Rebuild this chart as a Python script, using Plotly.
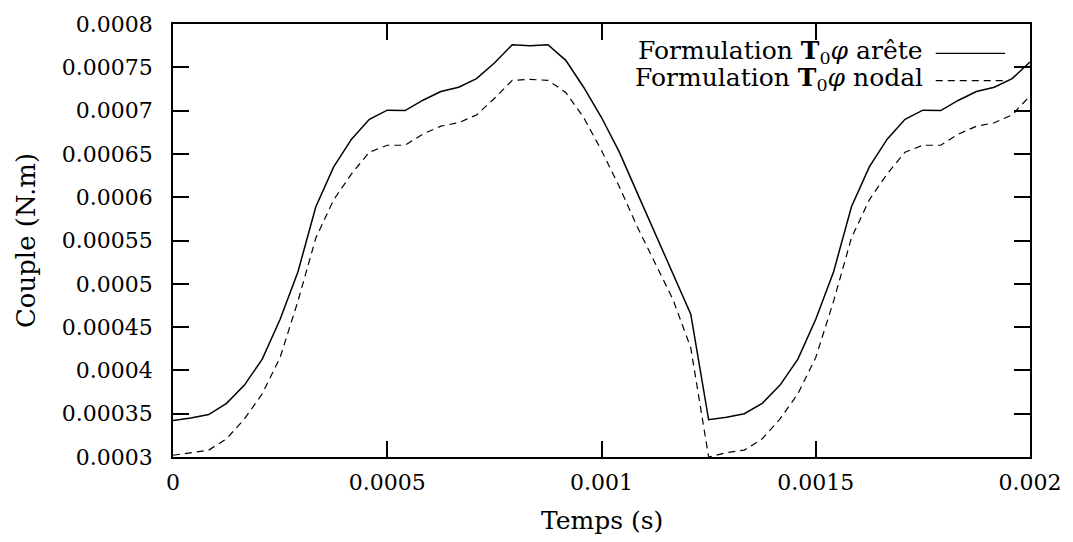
import plotly.graph_objects as go

temps = [0.0, 4.1667e-05, 8.3333e-05, 1.25e-04, 1.6667e-04, 2.0833e-04, 2.5e-04,
         2.9167e-04, 3.3333e-04, 3.75e-04, 4.1667e-04, 4.5833e-04, 5.0e-04, 5.4167e-04,
         5.8333e-04, 6.25e-04, 6.6667e-04, 7.0833e-04, 7.5e-04, 7.9167e-04, 8.3333e-04,
         8.75e-04, 9.1667e-04, 9.5833e-04, 1.0e-03, 1.04167e-03, 1.08333e-03, 1.125e-03,
         1.16667e-03, 1.20833e-03, 1.25e-03, 1.29167e-03, 1.33333e-03, 1.375e-03,
         1.41667e-03, 1.45833e-03, 1.5e-03, 1.54167e-03, 1.58333e-03, 1.625e-03,
         1.66667e-03, 1.70833e-03, 1.75e-03, 1.79167e-03, 1.83333e-03, 1.875e-03,
         1.91667e-03, 1.95833e-03, 2.0e-03]

couple_arete = [0.000342, 0.000345, 0.000349, 0.000362, 0.000383, 0.000413, 0.000459,
                0.000514, 0.000589, 0.000635, 0.000667, 0.000690, 0.0007005, 0.000700,
                0.000712, 0.000722, 0.000727, 0.000737, 0.000755, 0.000776, 0.000775,
                0.000776, 0.000758, 0.000727, 0.000692, 0.000652, 0.000605, 0.000558,
                0.000511, 0.000465, 0.000343, 0.000346, 0.000350, 0.000362, 0.000383,
                0.000413, 0.000459, 0.000514, 0.000589, 0.000635, 0.000667, 0.000690,
                0.0007005, 0.000700, 0.000712, 0.000722, 0.000727, 0.000737, 0.000756]

couple_nodal = [0.000302, 0.000305, 0.000308, 0.000321, 0.000344, 0.000373, 0.000415,
                0.000480, 0.000553, 0.000597, 0.000627, 0.000652, 0.000660, 0.000660,
                0.000673, 0.000682, 0.000686, 0.000695, 0.000714, 0.000735, 0.000736,
                0.000735, 0.000721, 0.000692, 0.000654, 0.000612, 0.000566, 0.000524,
                0.000482, 0.000426, 0.000300, 0.000305, 0.000308, 0.000321, 0.000344,
                0.000373, 0.000415, 0.000480, 0.000553, 0.000597, 0.000627, 0.000652,
                0.000660, 0.000660, 0.000673, 0.000682, 0.000686, 0.000695, 0.000717]

xticks = [0, 0.0005, 0.001, 0.0015, 0.002]
xticklabels = ["0", "0.0005", "0.001", "0.0015", "0.002"]
yticks = [0.0003, 0.00035, 0.0004, 0.00045, 0.0005, 0.00055, 0.0006, 0.00065, 0.0007, 0.00075, 0.0008]
yticklabels = ["0.0003", "0.00035", "0.0004", "0.00045", "0.0005", "0.00055", "0.0006",
               "0.00065", "0.0007", "0.00075", "0.0008"]

FONT = "DejaVu Serif"
FS = 22
FS_TXT = 25
DASH = "7px,5px"

fig = go.Figure()
fig.add_trace(go.Scatter(x=temps, y=couple_arete, mode="lines",
                         line=dict(color="black", width=1.5),
                         name="Formulation T0φ arête", showlegend=False))
fig.add_trace(go.Scatter(x=temps, y=couple_nodal, mode="lines",
                         line=dict(color="black", width=1.2, dash=DASH),
                         name="Formulation T0φ nodal", showlegend=False))

axis_common = dict(showgrid=False, zeroline=False, showline=True, linecolor="black",
                   linewidth=1.5, mirror="allticks", ticks="inside", ticklen=16,
                   tickwidth=1.5, tickcolor="black", ticklabeloverflow="allow",
                   tickfont=dict(family=FONT, size=FS, color="black"))

fig.update_xaxes(range=[0, 0.002], tickvals=xticks, ticktext=xticklabels,
                 ticklabelstandoff=5, **axis_common)
fig.update_yaxes(range=[0.0003, 0.0008], tickvals=yticks, ticktext=yticklabels,
                 ticklabelstandoff=14, **axis_common)

# legend (text on the left, line sample on the right)
leg_rows = [("Formulation <b>T</b><sub>0</sub><i>φ</i> arête", "solid", 0.936),
            ("Formulation <b>T</b><sub>0</sub><i>φ</i> nodal", "dash", 0.873)]
for txt, dash, yy in leg_rows:
    fig.add_annotation(xref="paper", yref="paper", x=0.877, y=yy, text=txt,
                       showarrow=False, xanchor="right", yanchor="middle",
                       font=dict(family=FONT, size=FS_TXT, color="black"))
    fig.add_shape(type="line", xref="paper", yref="paper", x0=0.89, x1=0.971,
                  y0=yy - 0.004, y1=yy - 0.004,
                  line=dict(color="black", width=1.2,
                            dash="solid" if dash == "solid" else DASH))

fig.add_annotation(xref="paper", yref="paper", x=0.5, y=-0.147, text="Temps (s)",
                   showarrow=False, xanchor="center", yanchor="middle",
                   font=dict(family=FONT, size=FS_TXT, color="black"))
fig.add_annotation(xref="paper", yref="paper", x=-0.172, y=0.5, text="Couple (N.m)",
                   showarrow=False, xanchor="center", yanchor="middle", textangle=-90,
                   font=dict(family=FONT, size=FS_TXT + 1, color="black"))

fig.update_layout(width=1073, height=542, margin=dict(l=173, r=38, t=21, b=85),
                  plot_bgcolor="white", paper_bgcolor="white",
                  font=dict(family=FONT, size=FS, color="black"))

# remove the default page margin so the figure fills the window exactly
fig.write_html("out.html", config={"displayModeBar": False},
               post_script="document.body.style.margin='0';"
                           "document.body.style.overflow='hidden';"
                           "document.documentElement.style.overflow='hidden';")
